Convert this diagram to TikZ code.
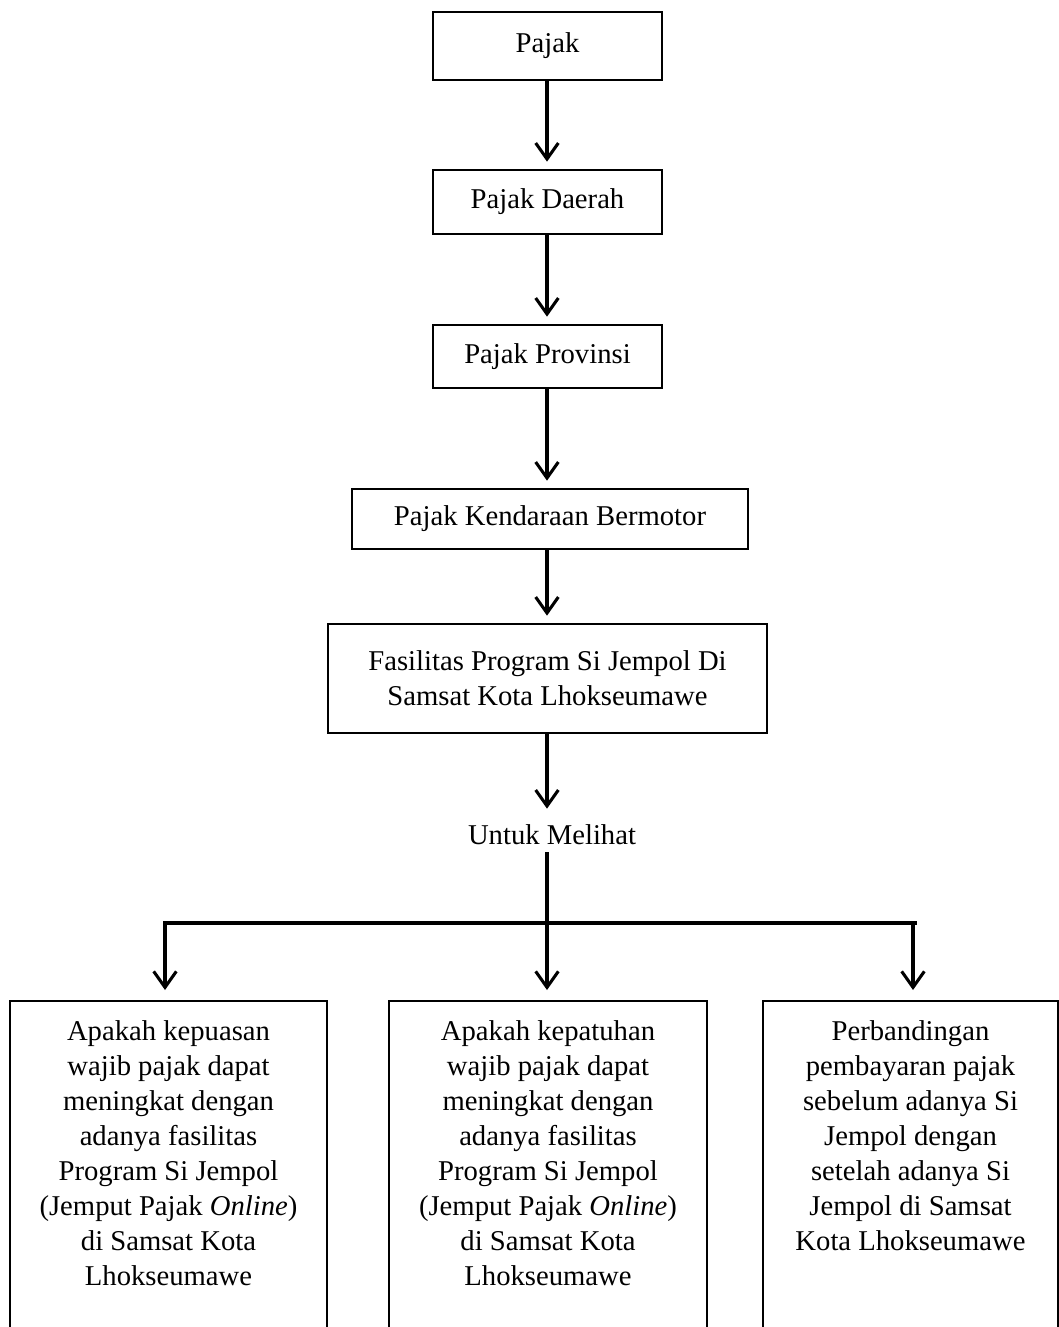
\documentclass[tikz,border=0pt]{standalone}
\usepackage{fontspec}
\setmainfont{Liberation Serif}
\usetikzlibrary{arrows.meta}
\begin{document}
\begin{tikzpicture}[x=0.75pt,y=-0.75pt,
  txt/.style={font=\fontsize{21.5}{26.25}\selectfont, align=center, text=black},
  box/.style={draw, line width=1.5pt, inner sep=0pt, align=center},
  arr/.style={line width=2.3pt, shorten >=5.5pt, -{Straight Barb[length=12pt,width=17pt]}},
  bar/.style={line width=3pt}]
\useasboundingbox (0,0) rectangle (1059,1327);
\clip (0,0) rectangle (1059,1327);
% chain of boxes
\node[box, txt, minimum width=171.75pt, minimum height=51pt] (b1) at (547.5,46) {Pajak};
\node[box, txt, minimum width=171.75pt, minimum height=48pt] (b2) at (547.5,202) {Pajak Daerah};
\node[box, txt, minimum width=171.75pt, minimum height=47.25pt] (b3) at (547.5,356.5) {Pajak Provinsi};
\node[box, txt, minimum width=297pt, minimum height=45pt] (b4) at (550,519) {Pajak Kendaraan Bermotor};
\node[box, txt, minimum width=329.25pt, minimum height=81.75pt] (b5) at (547.5,678.5) {Fasilitas Program Si Jempol Di\\Samsat Kota Lhokseumawe};
\node[txt, inner sep=0pt] (untuk) at (552,835) {Untuk Melihat};
% bottom boxes (cut off by the page edge)
\node[box, anchor=north, minimum width=237.75pt, minimum height=330pt] (bl) at (168.5,1000) {};
\node[box, anchor=north, minimum width=238.5pt, minimum height=330pt] (bm) at (548,1000) {};
\node[box, anchor=north, minimum width=221.25pt, minimum height=330pt] (br) at (910.5,1000) {};
\node[txt, anchor=north, inner sep=0pt] (tl) at (168.5,1020) {Apakah kepuasan\\wajib pajak dapat\\meningkat dengan\\adanya fasilitas\\Program Si Jempol\\(Jemput Pajak \textit{Online})\\di Samsat Kota\\Lhokseumawe};
\node[txt, anchor=north, inner sep=0pt] (tm) at (548,1020) {Apakah kepatuhan\\wajib pajak dapat\\meningkat dengan\\adanya fasilitas\\Program Si Jempol\\(Jemput Pajak \textit{Online})\\di Samsat Kota\\Lhokseumawe};
\node[txt, anchor=north, inner sep=0pt] (tr) at (910.5,1020) {Perbandingan\\pembayaran pajak\\sebelum adanya Si\\Jempol dengan\\setelah adanya Si\\Jempol di Samsat\\Kota Lhokseumawe};
% connectors
\coordinate (hl) at (165,923);
\coordinate (hm) at (547,923);
\coordinate (hr) at (913,923);
\coordinate (hle) at (163,923);
\coordinate (hre) at (917,923);
\draw[arr] (b1.south -| hm) -- (b2.north -| hm);
\draw[arr] (b2.south -| hm) -- (b3.north -| hm);
\draw[arr] (b3.south -| hm) -- (b4.north -| hm);
\draw[arr] (b4.south -| hm) -- (b5.north -| hm);
\draw[arr, shorten >=12pt] (b5.south -| hm) -- (untuk.north -| hm);
\draw[line width=2.3pt, shorten <=5pt] (untuk.south -| hm) -- (hm);
\draw[bar] (hle) -- (hre);
\draw[arr, shorten >=7.5pt] (hl) -- (bl.north -| hl);
\draw[arr, shorten >=7.5pt] (hm) -- (bm.north -| hm);
\draw[arr, shorten >=7.5pt] (hr) -- (br.north -| hr);
\end{tikzpicture}
\end{document}
